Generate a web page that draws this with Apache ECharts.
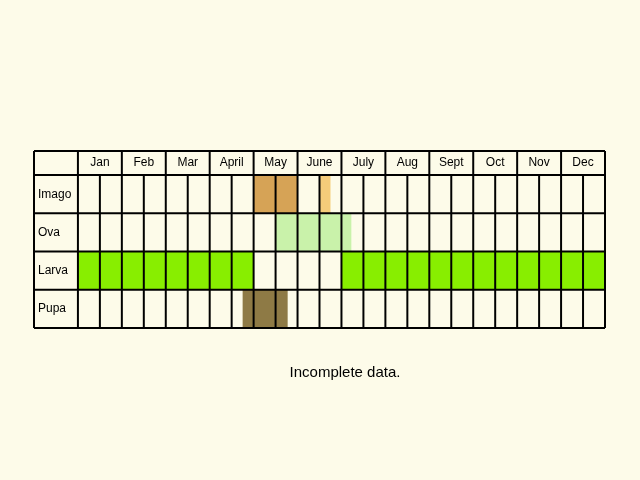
<!DOCTYPE html>
<html><head><meta charset="utf-8">
<script src="https://cdn.jsdelivr.net/npm/echarts@6/dist/echarts.min.js"></script>
<style>html,body{margin:0;background:#fdfbe9}#c{width:640px;height:480px}</style>
</head><body><div id="c"></div>
<script>
const months = ['Jan','Feb','Mar','Apr','May','June','July','Aug','Sept','Oct','Nov','Dec'];
const months2 = ['Jan','Feb','Mar','April','May','June','July','Aug','Sept','Oct','Nov','Dec'];
const stages = ['Imago','Ova','Larva','Pupa'];
// [startHalfMonth, endHalfMonth, stageIndex, colour]
const imago = [[8, 10, 0, '#d6a356'], [11, 11.5, 0, '#f5cc7a']];
const ova = [[9, 12.45, 1, '#c9f2aa']];
const larva = [[0, 8, 2, '#88ee00'], [12, 24, 2, '#88ee00']];
const pupa = [[7.5, 9.55, 3, '#8e7a45']];
const periods = [].concat(imago, ova, larva, pupa);
const HEAD = -0.63;

const chart = echarts.init(document.getElementById('c'));
chart.setOption({
  backgroundColor: '#fdfbe9',
  animation: false,
  grid: {left: 34, right: 35, top: 151, bottom: 152},
  xAxis: {type: 'value', min: -2, max: 24, show: false},
  yAxis: {type: 'value', min: HEAD, max: 4, inverse: true, show: false},
  title: {text: 'Incomplete data.', left: 340, top: 360, textAlign: 'center',
    textStyle: {fontFamily: 'Liberation Sans, Arial', fontSize: 15, fontWeight: 'normal', color: '#000'}},
  series: [
    {
      type: 'custom', z: 1,
      data: periods,
      renderItem: function (params, api) {
        const a = api.coord([api.value(0), api.value(2)]);
        const b = api.coord([api.value(1), api.value(2) + 1]);
        return {type: 'rect', shape: {x: a[0], y: a[1], width: b[0] - a[0], height: b[1] - a[1]},
          style: {fill: periods[params.dataIndex][3]}};
      }
    },
    {
      type: 'custom', z: 5,
      data: [[0]],
      renderItem: function (params, api) {
        const ch = [];
        const ln = (x1, y1, x2, y2) => {
          const p = api.coord([x1, y1]), q = api.coord([x2, y2]);
          ch.push({type: 'line', shape: {x1: p[0], y1: p[1], x2: q[0], y2: q[1]},
            style: {stroke: '#000', lineWidth: 2}});
        };
        [HEAD, 0, 1, 2, 3, 4].forEach(y => ln(-2, y, 24, y));
        ln(-2, HEAD, -2, 4);
        for (let x = 0; x <= 24; x++) ln(x, x % 2 === 0 ? HEAD : 0, x, 4);
        months2.forEach((m, i) => {
          const p = api.coord([2 * i + 1, HEAD / 2]);
          ch.push({type: 'text', x: p[0], y: p[1], style: {text: m, align: 'center', verticalAlign: 'middle',
            font: '12px Liberation Sans, Arial', fill: '#000'}});
        });
        stages.forEach((s, i) => {
          const p = api.coord([-2, i + 0.5]);
          ch.push({type: 'text', x: p[0] + 4, y: p[1], style: {text: s, align: 'left', verticalAlign: 'middle',
            font: '12px Liberation Sans, Arial', fill: '#000'}});
        });
        return {type: 'group', children: ch};
      }
    }
  ]
});
</script></body></html>
